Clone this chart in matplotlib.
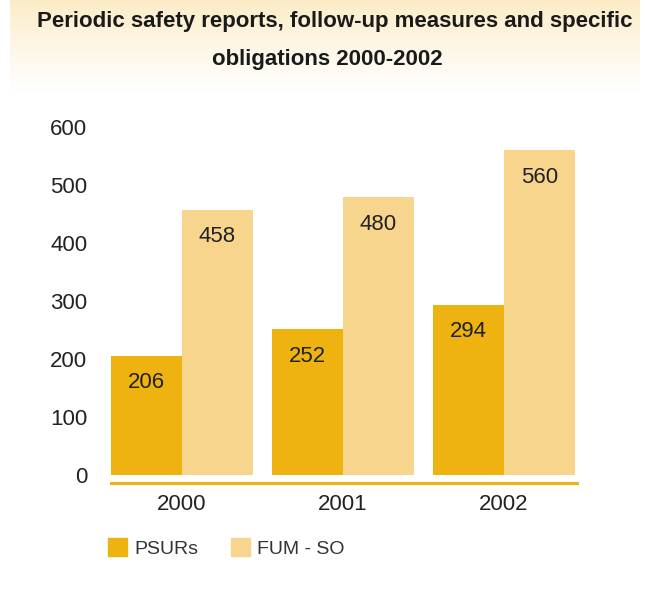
import numpy as np
import matplotlib.pyplot as plt
from matplotlib.patches import Patch

plt.rcParams['font.family'] = ['Liberation Sans', 'DejaVu Sans']

years = ["2000", "2001", "2002"]
psurs = [206, 252, 294]
fum_so = [458, 480, 560]

c_dark = "#EFB311"
c_light = "#F7D58D"

fig = plt.figure(figsize=(6.45, 5.94), dpi=100)

# title band with gradient
bg = fig.add_axes([10 / 645, 1 - 92 / 594, 630 / 645, 92 / 594])
grad = np.linspace(0, 1, 100).reshape(-1, 1)
top = np.array([0.988, 0.925, 0.78])
white = np.array([1.0, 1.0, 1.0])
img = top + (white - top) * grad[..., None] ** 0.9
bg.imshow(img, aspect="auto", extent=[0, 1, 0, 1])
bg.axis("off")
fig.text(335 / 645, 1 - 22 / 594, "Periodic safety reports, follow-up measures and specific",
         ha="center", va="center", fontsize=16, fontweight="bold", color="#1a1a1a")
fig.text(327 / 645, 1 - 60 / 594, "obligations 2000-2002",
         ha="center", va="center", fontsize=16, fontweight="bold", color="#1a1a1a")

ax = fig.add_axes([111 / 645, 119 / 594, 466 / 645, 371 / 594])
x = np.arange(len(years))
w = 0.44
b1 = ax.bar(x - w / 2, psurs, w, color=c_dark)
b2 = ax.bar(x + w / 2, fum_so, w, color=c_light)

for bars in (b1, b2):
    for b in bars:
        ax.text(b.get_x() + b.get_width() / 2, b.get_height() - 29, str(int(b.get_height())),
                ha="center", va="top", fontsize=16, color="#222222")

ax.set_xlim(-0.441, 2.453)
ax.set_ylim(0, 640)
ax.set_yticks(range(0, 601, 100))
ax.set_xticks(x)
ax.set_xticklabels(years)
for s in ["top", "right", "left", "bottom"]:
    ax.spines[s].set_visible(False)
ax.axhline(-14, color=c_dark, lw=2.2, clip_on=False)
ax.tick_params(axis="both", length=0, labelsize=16, colors="#222222")
ax.tick_params(axis="y", pad=17)
ax.tick_params(axis="x", pad=14)

handles = [Patch(color=c_dark, label="PSURs"), Patch(color=c_light, label="FUM - SO")]
fig.legend(handles=handles, loc="center left", bbox_to_anchor=(108 / 645, 1 - 548 / 594),
           ncol=2, frameon=False, fontsize=14, handlelength=1.0, handleheight=1.0,
           columnspacing=1.65, handletextpad=0.36, borderpad=0, borderaxespad=0,
           labelcolor="#333333")

fig.savefig("out.png", dpi=100)
